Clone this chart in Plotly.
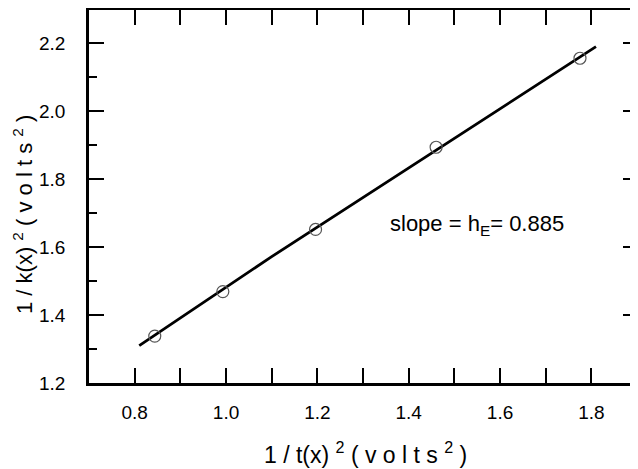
import plotly.graph_objects as go

# measured data points
x_data = [0.844, 0.993, 1.196, 1.460, 1.775]
y_data = [1.338, 1.469, 1.652, 1.894, 2.156]

# fitted line vertices
x_fit = [0.81, 1.10, 1.81]
y_fit = [1.31, 1.572, 2.19]

x_ticks = [0.8, 1.0, 1.2, 1.4, 1.6, 1.8]
y_ticks = [1.2, 1.4, 1.6, 1.8, 2.0, 2.2]

FONT = "Liberation Sans, Arial, sans-serif"

x_title = "1 / t(x) <sup>2</sup> ( v o l t s <sup>2</sup> )"
y_title = "1 / k(x) <sup>2</sup> ( v o l t s <sup>2</sup> )"

fig = go.Figure()
fig.add_trace(go.Scatter(x=x_fit, y=y_fit, mode="lines",
                         line=dict(color="black", width=2.8), showlegend=False))
fig.add_trace(go.Scatter(x=x_data, y=y_data, mode="markers",
                         marker=dict(symbol="circle-open", size=12, color="#555555",
                                     line=dict(width=1.2, color="#555555")),
                         showlegend=False))
# invisible trace on right axis to carry the right-hand ticks
fig.add_trace(go.Scatter(x=[x_data[0]], y=[y_data[0]], yaxis="y2", mode="markers",
                         marker=dict(opacity=0), showlegend=False, hoverinfo="skip"))

axis_common = dict(ticks="inside", ticklen=15, tickwidth=2.2, tickcolor="black",
                   showgrid=False, zeroline=False,
                   tickfont=dict(family=FONT, size=19, color="black"))

# page has an 8px body margin, so the figure is 8px smaller and offset accordingly
fig.update_layout(
    width=630, height=461,
    margin=dict(l=81, r=0, t=2, b=86),
    paper_bgcolor="white", plot_bgcolor="white",
    xaxis=dict(range=[0.7, 1.902], tickvals=x_ticks, ticktext=[f"{v:.1f}" for v in x_ticks],
               showline=True, linecolor="black", linewidth=2.5, mirror="allticks",
               minor=dict(ticks="inside", ticklen=8, tickwidth=2.2, tickcolor="black",
                          tickvals=[0.9, 1.1, 1.3, 1.5, 1.7]),
               ticklabelstandoff=10,
               **axis_common),
    yaxis=dict(range=[1.2, 2.298], tickvals=y_ticks, ticktext=[f"{v:.1f}" for v in y_ticks],
               showline=True, linecolor="black", linewidth=2.5, mirror=False,
               minor=dict(ticks="inside", ticklen=8, tickwidth=2.2, tickcolor="black",
                          tickvals=[1.3, 1.5, 1.7, 1.9, 2.1]),
               ticklabelstandoff=17,
               **axis_common),
    yaxis2=dict(range=[1.2, 2.298], overlaying="y", side="right", tickvals=y_ticks,
                showticklabels=False, showline=False,
                minor=dict(ticks="inside", ticklen=8, tickwidth=2.2, tickcolor="black",
                           tickvals=[1.3, 1.5, 1.7, 1.9, 2.1]),
                **axis_common),
    annotations=[
        dict(text="slope = h<sub>E</sub>= 0.885", x=1.355, y=1.665, xref="x", yref="y",
             xanchor="left", yanchor="middle", showarrow=False,
             font=dict(family=FONT, size=22, color="black")),
        dict(text=x_title,
             x=(365 - 89) / 549, y=0, xref="paper", yref="paper", yshift=-70,
             xanchor="center", yanchor="middle", showarrow=False,
             font=dict(family=FONT, size=23, color="black")),
        dict(text=y_title,
             x=0, y=(383 - 215) / 373, xref="paper", yref="paper", xshift=-66,
             xanchor="center", yanchor="middle", textangle=-90, showarrow=False,
             borderpad=0,
             font=dict(family=FONT, size=22, color="black")),
    ],
)

fig.write_html("out.html")
